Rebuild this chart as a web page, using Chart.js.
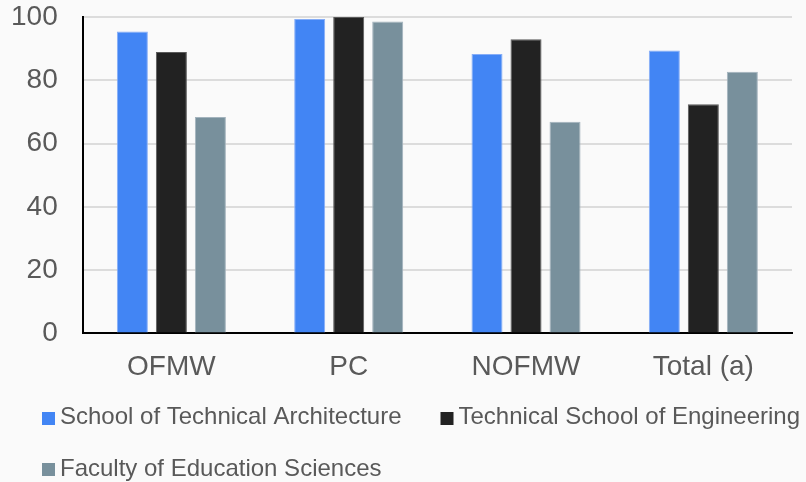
<!DOCTYPE html>
<html>
<head>
<meta charset="utf-8">
<script src="https://cdn.jsdelivr.net/npm/chart.js@4.4.1/dist/chart.umd.min.js"></script>
<style>
  html, body { margin: 0; padding: 0; background: #fafafa; }
  #wrap { width: 806px; height: 482px; position: relative; }
</style>
</head>
<body>
<div id="wrap"><canvas id="chart"></canvas></div>
<script>
// Categories and series values (percent)
const categories = ['OFMW', 'PC', 'NOFMW', 'Total (a)'];
const seriesNames = [
  'School of Technical Architecture',
  'Technical School of Engineering',
  'Faculty of Education Sciences'
];
const architecture = [95.4, 99.4, 88.3, 89.4];
const engineering  = [88.9, 100.0, 93.0, 72.4];
const education    = [68.4, 98.6, 66.9, 82.7];
const yTicks = [0, 20, 40, 60, 80, 100];

const FONT = '"Liberation Sans", Arial, sans-serif';
const TEXT = '#595959';

const fills   = ['#4285f4', '#222222', '#78909c'];
const borders = ['#86adf7', '#5a5a5a', '#a3b3bd'];

// Legend drawn as flowing rows of square swatch + label
const flowLegend = {
  id: 'flowLegend',
  afterDraw(chart, args, o) {
    const ctx = chart.ctx;
    ctx.save();
    ctx.font = o.fontSize + 'px ' + FONT;
    ctx.textBaseline = 'middle';
    ctx.textAlign = 'left';
    let x = o.left, y = o.top;
    chart.data.datasets.forEach(ds => {
      const w = o.box + o.gap + ctx.measureText(ds.label).width;
      if (x > o.left && x + w > chart.width) { x = o.left; y += o.rowHeight; }
      ctx.fillStyle = ds.backgroundColor;
      ctx.fillRect(x, Math.round(y - o.box / 2 + 0.5), o.box, o.box);
      ctx.fillStyle = TEXT;
      ctx.fillText(ds.label, x + o.box + o.gap, y);
      x += w + o.spacing;
    });
    ctx.restore();
  }
};

const values = [architecture, engineering, education];

new Chart(document.getElementById('chart'), {
  type: 'bar',
  data: {
    labels: categories,
    datasets: values.map((v, i) => ({
      label: seriesNames[i],
      data: v,
      backgroundColor: fills[i],
      borderColor: borders[i],
      borderWidth: 1,
      categoryPercentage: 0.66,
      barPercentage: 0.795
    }))
  },
  options: {
    responsive: true,
    maintainAspectRatio: false,
    animation: false,
    layout: { padding: { left: 11, right: 14, top: 17, bottom: 98 } },
    plugins: {
      legend: { display: false },
      tooltip: { enabled: false },
      flowLegend: { left: 42, top: 417.5, box: 13, gap: 5, rowHeight: 51.5, spacing: 39, fontSize: 24 }
    },
    scales: {
      x: {
        grid: { display: false, drawTicks: false },
        border: { display: true, color: '#000000', width: 2 },
        ticks: { color: TEXT, font: { family: FONT, size: 28 }, padding: 17, maxRotation: 0 },
        // keep only one tick gap below the axis line
        afterFit(scale) { scale.height -= scale.options.ticks.padding; }
      },
      y: {
        min: 0,
        max: 100,
        afterBuildTicks(scale) { scale.ticks = yTicks.map(v => ({ value: v })); },
        grid: { color: '#dcdcdc', lineWidth: 2, drawTicks: false },
        border: { display: true, color: '#000000', width: 2 },
        ticks: { color: TEXT, font: { family: FONT, size: 28 }, padding: 25 },
        afterFit(scale) {
          const p = scale.options.ticks.padding;
          scale.width -= p;
          scale.paddingTop -= p;
          scale.paddingBottom -= p;
        }
      }
    }
  },
  plugins: [flowLegend]
});
</script>
</body>
</html>
